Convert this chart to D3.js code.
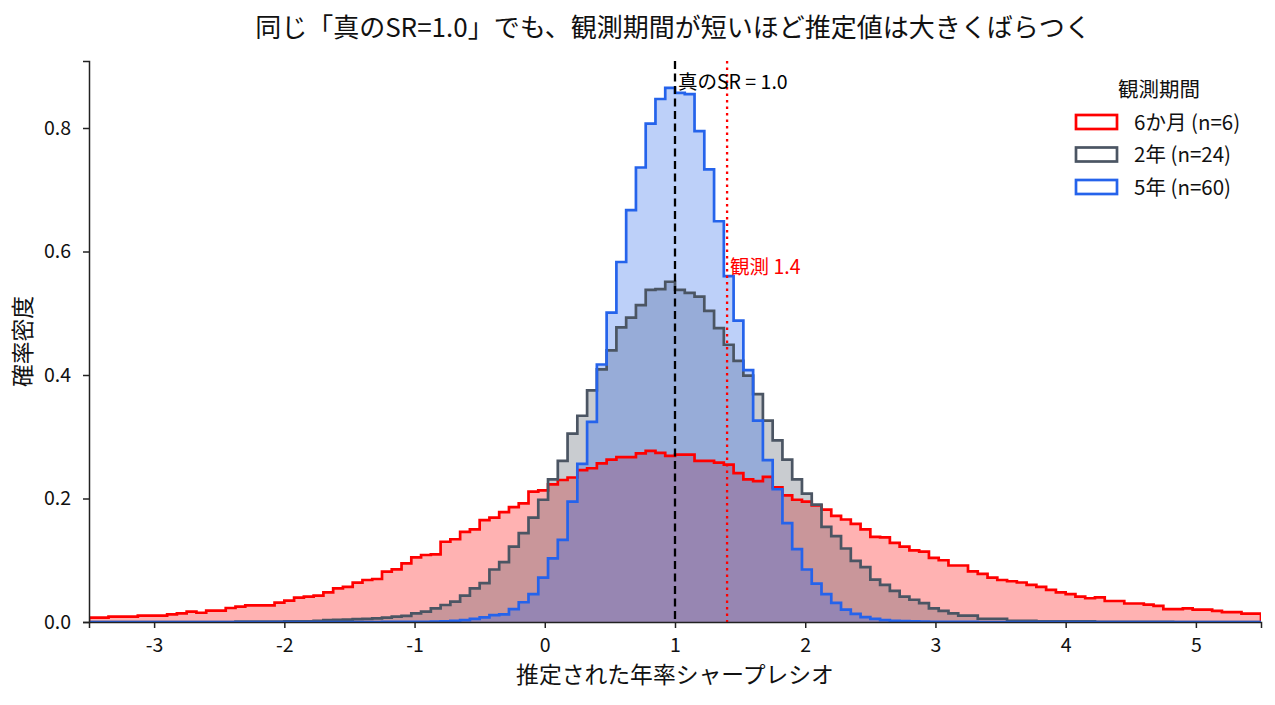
<!DOCTYPE html>
<html>
<head>
<meta charset="utf-8">
<script src="https://cdn.jsdelivr.net/npm/d3@7"></script>
<style>
body { margin: 0; background: #fff; }
svg { font-family: "Noto Sans CJK JP", "Noto Sans", sans-serif; }
</style>
</head>
<body>
<svg id="chart" width="1275" height="705"></svg>
<script>
// bins: 120 bins of 0.075 from -3.5 to 5.5
var binStart = -3.5
var binWidth = 0.075
var binCount = 120

var seriesNames = ["6か月 (n=6)", "2年 (n=24)", "5年 (n=60)"]
var seriesColors = ["#ff0000", "#4b5563", "#2563eb"]

// density per bin
var red6m = [
0.007, 0.007, 0.0086, 0.0086, 0.0086, 0.0102, 0.0102, 0.0102, 0.0124, 0.014,
0.0167, 0.015, 0.0183, 0.0183, 0.0227, 0.0248, 0.027, 0.027, 0.027, 0.0313,
0.0345, 0.0394, 0.041, 0.0426, 0.048, 0.0545, 0.057, 0.0637, 0.068, 0.0696,
0.0815, 0.0853, 0.095, 0.1047, 0.1085, 0.1096, 0.130, 0.134, 0.146, 0.150,
0.165, 0.169, 0.178, 0.186, 0.192, 0.211, 0.213, 0.223, 0.230, 0.234,
0.246, 0.249, 0.257, 0.263, 0.267, 0.267, 0.273, 0.277, 0.274, 0.269,
0.271, 0.271, 0.261, 0.261, 0.258, 0.255, 0.241, 0.231, 0.228, 0.235,
0.218, 0.205, 0.198, 0.195, 0.189, 0.182, 0.172, 0.166, 0.159, 0.150,
0.138, 0.137, 0.128, 0.122, 0.116, 0.114, 0.104, 0.100, 0.0915, 0.0915,
0.082, 0.078, 0.072, 0.068, 0.066, 0.064, 0.060, 0.057, 0.052, 0.048,
0.045, 0.041, 0.0385, 0.040, 0.034, 0.034, 0.030, 0.030, 0.028, 0.026,
0.021, 0.021, 0.022, 0.020, 0.020, 0.018, 0.016, 0.016, 0.0136, 0.0136
]

var gray2y = [
0, 0, 0, 0, 0, 0, 0, 0, 0, 0,
0, 0, 0, 0, 0, 0.0005, 0.0005, 0.0005, 0.0005, 0.0005,
0.001, 0.001, 0.001, 0.002, 0.003, 0.0035, 0.004, 0.0045, 0.005, 0.006,
0.007, 0.0086, 0.010, 0.014, 0.0167, 0.022, 0.0275, 0.033, 0.0426, 0.0545,
0.063, 0.085, 0.097, 0.122, 0.144, 0.169, 0.198, 0.231, 0.261, 0.305,
0.334, 0.375, 0.409, 0.440, 0.477, 0.493, 0.513, 0.538, 0.539, 0.551,
0.538, 0.533, 0.527, 0.504, 0.476, 0.449, 0.423, 0.399, 0.369, 0.326,
0.294, 0.263, 0.231, 0.208, 0.190, 0.154, 0.139, 0.119, 0.099, 0.089,
0.0685, 0.060, 0.0505, 0.041, 0.036, 0.0305, 0.022, 0.018, 0.014, 0.0104,
0.0104, 0.0053, 0.0053, 0.0053, 0.002, 0.002, 0.002, 0.001, 0.001, 0.001,
0.001, 0.001, 0.001, 0.0004, 0.0004, 0.0004, 0.0004, 0.0004, 0.0004, 0.0004,
0.0004, 0, 0, 0, 0, 0, 0, 0, 0, 0
]

var blue5y = [
0, 0, 0, 0, 0, 0, 0, 0, 0, 0,
0, 0, 0, 0, 0, 0, 0, 0, 0, 0,
0, 0, 0, 0, 0, 0, 0, 0, 0, 0,
0.0003, 0.0003, 0.0003, 0.0003, 0.0003, 0.0008, 0.0012, 0.002, 0.003, 0.005,
0.0075, 0.011, 0.0125, 0.021, 0.032, 0.045, 0.072, 0.103, 0.133, 0.195,
0.256, 0.324, 0.417, 0.501, 0.583, 0.667, 0.736, 0.807, 0.847, 0.865,
0.857, 0.855, 0.795, 0.733, 0.649, 0.560, 0.488, 0.408, 0.326, 0.262,
0.215, 0.160, 0.118, 0.085, 0.062, 0.045, 0.031, 0.020, 0.013, 0.008,
0.005, 0.003, 0.002, 0.0015, 0.001, 0.0005, 0.0002, 0.0002, 0.0002, 0.0002,
0.0002, 0, 0, 0, 0, 0, 0, 0, 0, 0,
0, 0, 0, 0, 0, 0, 0, 0, 0, 0,
0, 0, 0, 0, 0, 0, 0, 0, 0, 0
]

var trueSR = 1.0
var observedSR = 1.4

var xTicks = [-3, -2, -1, 0, 1, 2, 3, 4, 5]
var yTicks = [0, 0.2, 0.4, 0.6, 0.8]

var margins = {"top": 61, "left": 89, "bottom": 83, "right": 14}
var width = 1275 - margins.left - margins.right
var height = 705 - margins.top - margins.bottom

var svg = d3.select("#chart")
var g = svg.append("g").attr("transform", "translate(" + margins.left + "," + margins.top + ")")

var x = d3.scaleLinear().domain([-3.5, 5.5]).range([0, width])
var y = d3.scaleLinear().domain([0, 0.9085]).range([height, 0])

g.append("clipPath").attr("id", "clip")
.append("rect").attr("width", width).attr("height", height)

var plot = g.append("g").attr("clip-path", "url(#clip)")

var series = [red6m, gray2y, blue5y].map(function(vals, k) {
  var pts = vals.map(function(v, i) { return [binStart + i * binWidth, v] })
  pts.push([binStart + binCount * binWidth, vals[vals.length - 1]])
  return {name: seriesNames[k], color: seriesColors[k], pts: pts}
})

var area = d3.area().curve(d3.curveStepAfter)
.x(function(d) { return x(d[0]) })
.y0(y(0))
.y1(function(d) { return y(d[1]) })

var line = d3.line().curve(d3.curveStepAfter)
.x(function(d) { return x(d[0]) })
.y(function(d) { return y(d[1]) })

//fills first, then outlines on top
plot.selectAll(".fill").data(series).enter().append("path")
.attr("class", "fill")
.attr("d", function(d) { return area(d.pts) })
.attr("fill", function(d) { return d.color })
.attr("fill-opacity", 0.3)

plot.selectAll(".step").data(series).enter().append("path")
.attr("class", "step")
.attr("d", function(d) {
  var p = [[d.pts[0][0], 0]].concat(d.pts)
  p.push([d.pts[d.pts.length - 1][0], 0])
  return line(p)
})
.attr("fill", "none")
.attr("stroke", function(d) { return d.color })
.attr("stroke-width", 2.7)

// reference lines
plot.append("line")
.attr("x1", x(trueSR)).attr("x2", x(trueSR))
.attr("y1", 0).attr("y2", height)
.attr("stroke", "#000").attr("stroke-width", 2.3)
.attr("stroke-dasharray", "8,4.5")

plot.append("line")
.attr("x1", x(observedSR)).attr("x2", x(observedSR))
.attr("y1", 0).attr("y2", height)
.attr("stroke", "#ff0000").attr("stroke-width", 2.3)
.attr("stroke-dasharray", "2.5,4")

g.append("text")
.attr("x", x(trueSR) + 3).attr("y", 28)
.attr("font-size", 19.5).attr("fill", "#000")
.text("真のSR = 1.0")

g.append("text")
.attr("x", x(observedSR) + 3).attr("y", 213)
.attr("font-size", 19.5).attr("fill", "#ff0000")
.text("観測 1.4")

// axes
var xAxis = g.append("g").attr("transform", "translate(0," + height + ")")
.call(d3.axisBottom(x).tickValues(xTicks).tickSize(6).tickPadding(10).tickFormat(d3.format("d")))
var yAxis = g.append("g")
.call(d3.axisLeft(y).tickValues(yTicks).tickSize(6).tickPadding(12).tickFormat(d3.format(".1f")))

xAxis.selectAll("text").attr("font-size", 19.5).attr("fill", "#111").attr("font-family", "Noto Sans CJK JP")
  .text(function(d) { return String(d) })
yAxis.selectAll("text").attr("font-size", 19.5).attr("fill", "#111").attr("font-family", "Noto Sans CJK JP")
xAxis.select(".domain").attr("stroke", "#222").attr("stroke-width", 1.5)
yAxis.select(".domain").attr("stroke", "#222").attr("stroke-width", 1.5)
xAxis.selectAll(".tick line").attr("stroke", "#222").attr("stroke-width", 1.5)
yAxis.selectAll(".tick line").attr("stroke", "#222").attr("stroke-width", 1.5)

// labels
svg.append("text")
.attr("x", margins.left + width / 2 - 2).attr("y", 37)
.attr("text-anchor", "middle").attr("font-size", 26).attr("fill", "#111")
.text("同じ「真のSR=1.0」でも、観測期間が短いほど推定値は大きくばらつく")

svg.append("text")
.attr("x", margins.left + width / 2).attr("y", 683)
.attr("text-anchor", "middle").attr("font-size", 22.8).attr("fill", "#111")
.text("推定された年率シャープレシオ")

svg.append("text")
.attr("transform", "translate(31," + (margins.top + height / 2) + ") rotate(-90)")
.attr("text-anchor", "middle").attr("font-size", 22.8).attr("fill", "#111")
.text("確率密度")

// legend
var legend = svg.append("g").attr("transform", "translate(1075,0)")
legend.append("text")
.attr("x", 84).attr("y", 97).attr("text-anchor", "middle")
.attr("font-size", 20.5).attr("fill", "#111")
.text("観測期間")

var items = legend.selectAll(".item").data(series).enter().append("g")
.attr("transform", function(d, i) { return "translate(0," + (122 + i * 32.5) + ")" })
items.append("rect")
.attr("x", 1).attr("y", -7).attr("width", 41).attr("height", 14)
.attr("fill", "#fff").attr("stroke", function(d) { return d.color }).attr("stroke-width", 2.7)
items.append("text")
.attr("x", 59).attr("y", 7.5)
.attr("font-size", 20.5).attr("fill", "#111")
.text(function(d) { return d.name })
</script>
</body>
</html>
